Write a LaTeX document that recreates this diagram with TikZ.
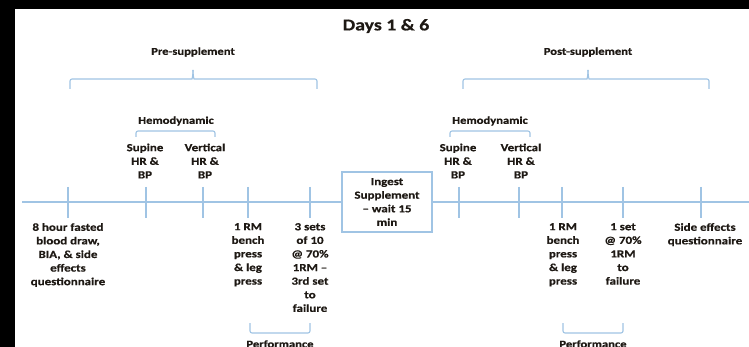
\documentclass[tikz,border=0pt]{standalone}
\usepackage{fontspec}
\setmainfont{Carlito}[FakeStretch=1.2, BoldFeatures={FakeBold=0.6}]
\definecolor{blu}{RGB}{160,196,228}
\definecolor{txt}{RGB}{30,25,20}
\begin{document}
\begin{tikzpicture}[x=1pt,y=-1pt,
  lbl/.style={font=\bfseries\fontsize{10.8}{13.6}\selectfont, text=txt, align=center, inner sep=0pt},
  ttl/.style={font=\bfseries\fontsize{10.5}{14}\selectfont, text=txt, inner sep=0pt},
  ln/.style={draw=blu, line width=1.1pt},
  brc/.style={draw=blu, line width=1.1pt, rounded corners=2pt}]
\useasboundingbox (0,0) rectangle (749,347);
\fill[white] (0,0) rectangle (749,347);
\fill[black] (0,0) rectangle (749,9);
\fill[black] (0,0) rectangle (15,347);

% title
\node[font=\bfseries\fontsize{16.5}{18}\selectfont, text=txt, inner sep=0pt] (title) at (386,26) {Days 1 \& 6};

% phase labels
\node[ttl] (pre) at (193,52) {Pre-supplement};
\node[ttl] (post) at (588,52) {Post-supplement};

% big braces
\draw[brc] (70,89) -- (70,79) -- (190,79) .. controls (192,79) and (193,76) .. (193,70);
\draw[brc] (317,89) -- (317,79) -- (196,79) .. controls (194,79) and (193,76) .. (193,70);
\draw[brc] (463,89) -- (463,79) -- (585,79) .. controls (587,79) and (588,76) .. (588,70);
\draw[brc] (709,89) -- (709,79) -- (591,79) .. controls (589,79) and (588,76) .. (588,70);

% hemodynamic
\node[ttl] (hemL) at (176,121) {Hemodynamic};
\node[ttl] (hemR) at (490,121) {Hemodynamic};
\draw[brc] (136,137) -- (136,131) -- (215,131) -- (215,137);
\draw[brc] (450,137) -- (450,131) -- (530,131) -- (530,137);

\node[lbl] (supL) at (145,161) {Supine\\HR \&\\BP};
\node[lbl] (verL) at (205,161) {Vertical\\HR \&\\BP};
\node[lbl] (supR) at (458,161) {Supine\\HR \&\\BP};
\node[lbl] (verR) at (521,161) {Vertical\\HR \&\\BP};

% box
\node[draw=blu, line width=1.1pt, minimum width=90pt, minimum height=60pt, lbl] (box) at (387,202) {Ingest\\Supplement\\-- wait 15\\min};

% timeline
\coordinate (tl0) at (22,202);
\coordinate (tl1) at (749,202);
\draw[ln] (tl0) -- (box.west);
\draw[ln] (box.east) -- (tl1);

% ticks
\foreach \x/\n in {68/a,146/b,203/c,248/d,310/e,459/f,519/g,562/h,623/i,701/j}{
  \coordinate (t\n) at (\x,202);
  \draw[ln] (\x,187) -- (\x,218);
}

% bottom labels
\node[lbl, anchor=north] (blood) at (68,223) {8 hour fasted\\blood draw,\\BIA, \& side\\effects\\questionnaire};
\node[lbl, anchor=north] (rmL) at (248,223) {1 RM\\bench\\press\\\& leg\\press};
\node[lbl, anchor=north] (setsL) at (310,223) {3 sets\\of 10\\@ 70\%\\1RM --\\3rd set\\to\\failure};
\node[lbl, anchor=north] (rmR) at (563,223) {1 RM\\bench\\press\\\& leg\\press};
\node[lbl, anchor=north] (setR) at (623,223) {1 set\\@ 70\%\\1RM\\to\\failure};
\node[lbl, anchor=north] (side) at (705,223) {Side effects\\questionnaire};

% performance brackets
\draw[brc] (250,323) -- (250,333) -- (310,333) -- (310,323);
\draw[brc] (563,323) -- (563,333) -- (623,333) -- (623,323);
\node[ttl] (perfL) at (280,344) {Performance};
\node[ttl] (perfR) at (593,344) {Performance};
\end{tikzpicture}
\end{document}
